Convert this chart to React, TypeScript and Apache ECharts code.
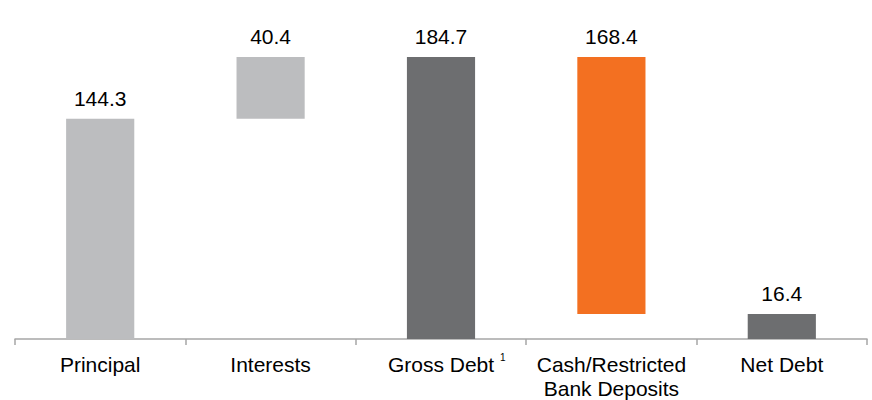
import React, { useEffect, useRef } from "react";
import * as echarts from "echarts";

const categories = ["Principal", "Interests", "Gross Debt", "Cash/Restricted\nBank Deposits", "Net Debt"];
const baseValues = [0, 144.3, 0, 16.4, 0];
const barValues = [144.3, 40.4, 184.7, 168.4, 16.4];
const barColors = ["#BCBDBF", "#BCBDBF", "#6D6E70", "#F37021", "#6D6E70"];

export default function App() {
  const ref = useRef<HTMLDivElement>(null);
  useEffect(() => {
    if (!ref.current) return;
    const chart = echarts.init(ref.current, undefined, { renderer: "svg" });
    const font = "Liberation Sans, Arial, sans-serif";
    chart.setOption({
      animation: false,
      grid: { left: 15, right: 5, top: 57, bottom: 60, containLabel: false },
      xAxis: {
        type: "category",
        data: categories,
        axisLine: { lineStyle: { color: "#A6A6A6", width: 1.5 } },
        axisTick: { show: true, interval: 0, length: 6, lineStyle: { color: "#A6A6A6", width: 1.5 } },
        axisLabel: {
          interval: 0,
          color: "#000",
          fontSize: 21,
          fontFamily: font,
          margin: 13,
          lineHeight: 24,
          formatter: (v: string) => (v === "Gross Debt" ? "{sp|1} Gross Debt {sup|1}" : v),
          rich: {
            sup: { fontSize: 10, fontFamily: font, color: "#000", verticalAlign: "top", padding: [0, 0, 10, 0] },
            sp: { fontSize: 10, fontFamily: font, color: "transparent", verticalAlign: "top", padding: [0, 0, 10, 0] },
          },
        },
      },
      yAxis: {
        type: "value",
        min: 0,
        max: 184.7,
        show: false,
        splitLine: { show: false },
      },
      series: [
        {
          type: "bar",
          stack: "w",
          data: baseValues,
          itemStyle: { color: "transparent" },
          silent: true,
          barWidth: "40%",
        },
        {
          type: "bar",
          stack: "w",
          barWidth: "40%",
          data: barValues.map((v, i) => ({ value: v, itemStyle: { color: barColors[i] } })),
          label: {
            show: true,
            position: "top",
            distance: 10,
            color: "#000",
            fontSize: 21,
            fontFamily: font,
            formatter: (p: any) => p.value.toFixed(1),
          },
        },
      ],
    });
    return () => chart.dispose();
  }, []);
  return <div ref={ref} style={{ position: "absolute", left: 0, top: 0, width: 872, height: 400 }} />;
}
